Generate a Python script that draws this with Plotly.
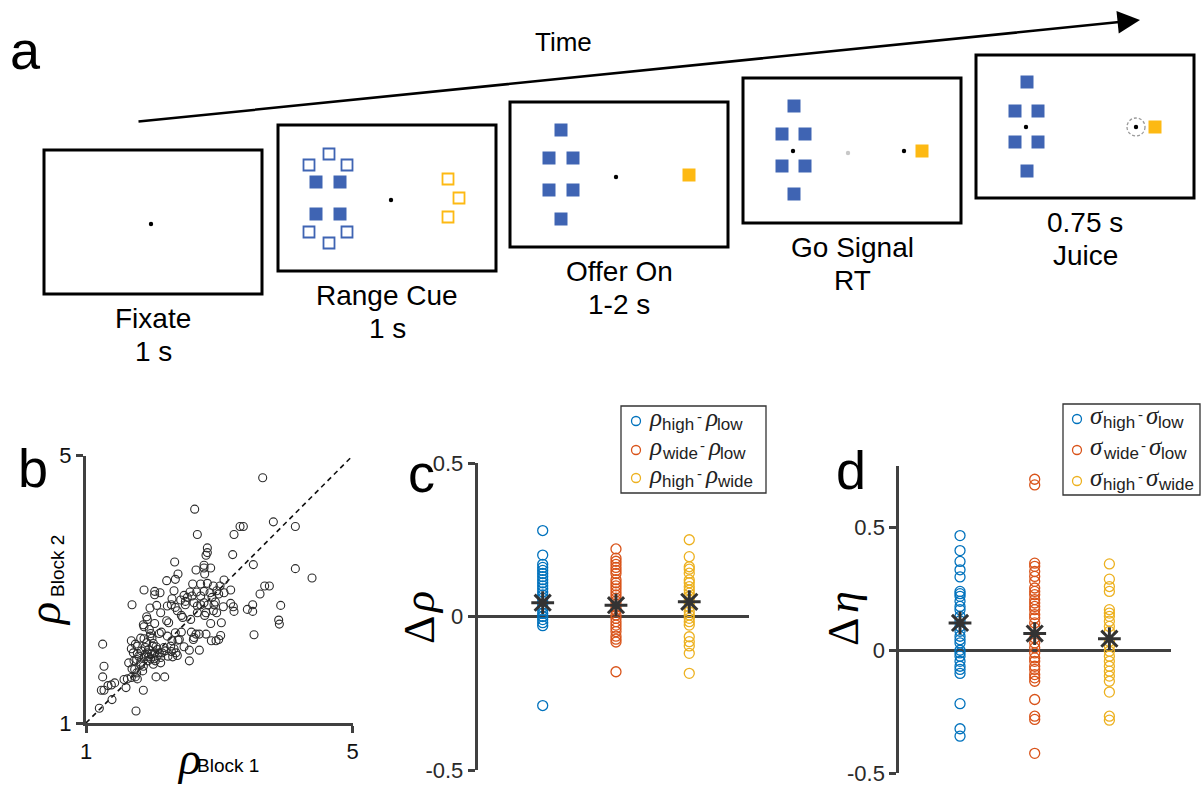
import plotly.graph_objects as go

W, H = 1203, 787
SANS = "Liberation Sans, Arial, sans-serif"
SERIF = "Liberation Serif, Times New Roman, serif"
AXIS_GREY = "#404040"
BLUE, ORANGE, YELLOW = "#0072BD", "#D95319", "#EDB120"
SQ_BLUE, SQ_YELLOW = "#3F64B3", "#FDB913"

# ---------------- panel b: rho per session, block 1 vs block 2 ----------------
rho_block1 = [
    3.65, 2.63, 3.81, 3.31, 3.36, 4.14, 3.22, 2.67, 2.82, 3.20, 2.80, 2.82,
    2.33, 3.51, 2.77, 2.77, 2.87, 2.65, 4.14, 2.38, 2.78, 4.39, 2.34, 2.21,
    3.07, 2.60, 2.72, 2.82, 2.91, 3.01, 3.68, 3.75, 1.87, 2.03, 2.11, 2.32,
    2.03, 2.47, 2.56, 2.66, 2.77, 2.86, 2.96, 2.99, 3.17, 3.61, 2.52, 2.29,
    2.42, 2.49, 1.69, 2.06, 2.28, 2.49, 2.67, 2.72, 2.83, 2.92, 3.06, 3.17,
    3.21, 1.96, 2.34, 3.42, 3.50, 3.50, 3.92, 2.80, 2.91, 2.96, 3.22, 2.43,
    2.45, 1.91, 1.92, 2.78, 2.57, 2.21, 2.24, 2.03, 2.87, 3.03, 3.89, 3.90,
    1.86, 1.87, 1.95, 1.97, 2.10, 2.13, 2.22, 2.34, 2.43, 2.58, 2.65, 2.70,
    2.80, 3.02, 2.62, 2.61, 2.99, 2.95, 2.88, 2.40, 2.29, 3.52, 1.25, 1.68,
    1.74, 1.82, 1.87, 1.91, 1.96, 1.99, 2.01, 2.05, 2.17, 2.27, 2.38, 2.47,
    2.55, 2.70, 1.71, 1.77, 1.83, 1.92, 2.00, 2.03, 2.10, 2.14, 2.28, 2.35,
    2.37, 1.76, 1.82, 1.88, 1.94, 1.97, 2.02, 2.07, 2.12, 2.23, 2.30, 2.55,
    1.27, 1.82, 1.69, 1.85, 1.76, 1.25, 1.57, 1.62, 1.68, 1.74, 1.77, 2.05,
    2.18, 1.43, 1.38, 1.33, 1.60, 1.27, 1.23, 1.86, 1.39, 1.20, 1.75, 1.89,
    1.94, 2.07, 1.93, 1.86, 1.98, 2.04, 2.19, 2.32, 2.12, 1.89, 2.01, 1.79,
    1.64, 1.73, 2.59, 2.72, 2.89, 2.62, 2.77, 2.94, 3.07, 2.67, 2.37, 2.12,
    2.22, 1.77, 1.68, 1.72,
]
rho_block2 = [
    4.67, 4.20, 4.01, 3.94, 3.94, 3.94, 3.82, 3.82, 3.62, 3.52, 3.51, 3.55,
    3.41, 3.37, 3.36, 3.32, 3.32, 3.29, 3.31, 3.23, 3.23, 3.17, 3.15, 3.13,
    3.14, 3.08, 3.08, 3.09, 3.05, 3.05, 3.05, 3.05, 2.99, 2.97, 2.95, 2.98,
    2.92, 2.91, 2.96, 2.96, 2.97, 2.95, 2.98, 2.93, 2.99, 2.93, 2.88, 2.86,
    2.84, 2.82, 2.77, 2.76, 2.77, 2.77, 2.75, 2.77, 2.77, 2.77, 2.74, 2.79,
    2.74, 2.72, 2.73, 2.70, 2.77, 2.67, 2.76, 2.65, 2.68, 2.65, 2.67, 2.61,
    2.58, 2.59, 2.55, 2.61, 2.55, 2.53, 2.50, 2.49, 2.49, 2.50, 2.54, 2.48,
    2.47, 2.44, 2.40, 2.34, 2.34, 2.36, 2.30, 2.35, 2.36, 2.36, 2.33, 2.33,
    2.33, 2.31, 2.28, 2.25, 2.25, 2.23, 2.23, 2.25, 2.23, 2.32, 2.18, 2.23,
    2.18, 2.27, 2.26, 2.20, 2.30, 2.27, 2.19, 2.14, 2.13, 2.15, 2.24, 2.14,
    2.09, 2.09, 2.05, 2.04, 2.08, 2.05, 2.15, 2.05, 2.05, 2.05, 2.07, 2.05,
    2.01, 1.95, 1.91, 1.99, 1.99, 1.96, 1.96, 2.01, 1.90, 2.00, 1.99, 1.93,
    1.85, 1.87, 1.81, 1.78, 1.75, 1.69, 1.65, 1.66, 1.68, 1.69, 1.66, 1.69,
    1.69, 1.60, 1.57, 1.56, 1.53, 1.49, 1.49, 1.49, 1.35, 1.22, 1.18, 2.13,
    2.10, 2.10, 1.93, 1.85, 2.03, 1.93, 2.08, 2.11, 1.98, 2.03, 1.88, 2.00,
    1.90, 1.80, 2.90, 2.90, 2.88, 2.80, 2.80, 2.81, 2.95, 2.65, 2.68, 2.65,
    2.75, 2.15, 2.11, 1.93,
]
rho_ticks = [1, 5]

# ---------------- panel c: differences in rho between range conditions ----------------
comparison_x = [1, 2, 3]
drho_high_low = [0.28, 0.20, 0.17, 0.16, 0.15, 0.14, 0.13, 0.12, 0.11, 0.10, 0.09, 0.08,
                 0.07, 0.06, 0.05, 0.04, 0.03, 0.02, 0.01, 0.0, -0.01, -0.02, -0.03, -0.29]
drho_wide_low = [0.22, 0.19, 0.18, 0.17, 0.16, 0.15, 0.14, 0.12, 0.11, 0.10, 0.09, 0.08,
                 0.07, 0.06, 0.05, 0.04, 0.03, 0.02, 0.005, -0.006, -0.017, -0.028,
                 -0.038, -0.049, -0.064, -0.074, -0.083, -0.18]
drho_high_wide = [0.25, 0.195, 0.162, 0.154, 0.141, 0.119, 0.11, 0.097, 0.086, 0.076,
                  0.065, 0.054, 0.043, 0.03, 0.016, 0.005, -0.006, -0.017, -0.028,
                  -0.066, -0.082, -0.096, -0.12, -0.185]
drho_means = [0.045, 0.037, 0.048]

# ---------------- panel d: differences in eta between range conditions ----------------
deta_high_low = [0.466, 0.405, 0.361, 0.327, 0.298, 0.239, 0.23, 0.219, 0.199, 0.178,
                 0.165, 0.138, 0.12, 0.097, 0.077, 0.057, 0.043, 0.03, 0.0, -0.011,
                 -0.024, -0.045, -0.065, -0.078, -0.094, -0.217, -0.319, -0.349]
deta_wide_low = [0.695, 0.672, 0.354, 0.341, 0.32, 0.3, 0.28, 0.253, 0.239, 0.226, 0.206,
                 0.192, 0.178, 0.165, 0.145, 0.131, 0.111, 0.091, 0.05, 0.03, 0.01,
                 -0.011, -0.031, -0.045, -0.065, -0.078, -0.099, -0.112, -0.126, -0.2,
                 -0.268, -0.281, -0.419]
deta_high_wide = [0.351, 0.289, 0.259, 0.239, 0.165, 0.151, 0.138, 0.118, 0.097, 0.077,
                  0.036, 0.016, -0.004, -0.024, -0.045, -0.065, -0.085, -0.105, -0.126,
                  -0.17, -0.268, -0.284]
deta_means = [0.111, 0.068, 0.047]

diff_ticks = [-0.5, 0, 0.5]
diff_ticktext = ["-0.5", "0", "0.5"]
comparison_subs = [("high", "low"), ("wide", "low"), ("high", "wide")]

# ---------------- panel a: trial schematic (pixel layout of the page) ----------------
screen_boxes = [(44, 150, 262, 294), (278, 125, 496, 271), (510, 102, 728, 247),
                (743, 78, 961, 223), (976, 55, 1194, 198)]
screen_captions = [("Fixate", "1 s"), ("Range Cue", "1 s"), ("Offer On", "1-2 s"),
                   ("Go Signal", "RT"), ("0.75 s", "Juice")]
fix_dots = [(151, 224), (391, 200), (616, 177), (793, 151), (904, 151), (1026, 127), (1136, 127)]
faded_dots = [(848, 153)]
offer_squares = [(316, 182), (340, 182), (316, 214), (340, 214),
                 (561, 130), (549, 158), (573, 158), (549, 190), (573, 190), (561, 219),
                 (794, 106), (782, 134), (805, 134), (782, 166), (805, 166), (794, 194),
                 (1027, 82), (1015, 111), (1038, 111), (1015, 142), (1038, 142), (1027, 171)]
range_blue_open = [(309, 165), (329, 154), (347, 165), (309, 232), (329, 243), (347, 232)]
range_yellow_open = [(448, 179), (459, 198), (448, 217)]
target_squares = [(689, 175), (922, 151), (1155, 127)]
reward_ring = (1136, 127, 9)

fig = go.Figure()

# panel b scatter
fig.add_trace(go.Scatter(x=[1, 5], y=[1, 5], mode="lines",
                         line=dict(color="#111111", width=1.6, dash="5px,4px"),
                         xaxis="x", yaxis="y", hoverinfo="skip"))
fig.add_trace(go.Scatter(x=rho_block1, y=rho_block2, mode="markers",
                         marker=dict(symbol="circle-open", size=8, color="#2b2b2b",
                                     line=dict(width=1.1)),
                         xaxis="x", yaxis="y"))

# panels c and d strips
for (xa, ya, groups, means) in [
    ("x2", "y2", [drho_high_low, drho_wide_low, drho_high_wide], drho_means),
    ("x3", "y3", [deta_high_low, deta_wide_low, deta_high_wide], deta_means),
]:
    for pos, vals, col in zip(comparison_x, groups, [BLUE, ORANGE, YELLOW]):
        fig.add_trace(go.Scatter(x=[pos] * len(vals), y=vals, mode="markers",
                                 marker=dict(symbol="circle-open", size=10, color=col,
                                             line=dict(width=1.3)),
                                 xaxis=xa, yaxis=ya))
    fig.add_trace(go.Scatter(x=comparison_x, y=means, mode="markers",
                             marker=dict(symbol="asterisk-open", size=19, color="#333333",
                                         line=dict(width=3, color="#333333")),
                             xaxis=xa, yaxis=ya))

# legend markers (drawn on the page-pixel overlay)
legend_rows_c = [421, 450, 478]
legend_rows_d = [419, 450, 481]
fig.add_trace(go.Scatter(x=[636] * 3 + [1077] * 3, y=legend_rows_c + legend_rows_d,
                         mode="markers",
                         marker=dict(symbol="circle-open", size=9,
                                     color=[BLUE, ORANGE, YELLOW] * 2, line=dict(width=1.3)),
                         xaxis="x4", yaxis="y4"))

tick_font = dict(family=SANS, size=22, color="#2a2a2a")
common_y = dict(showline=True, linecolor=AXIS_GREY, linewidth=3, ticks="outside",
                ticklen=7, tickwidth=3, tickcolor=AXIS_GREY, showgrid=False,
                tickfont=tick_font, automargin=False)

fig.update_layout(
    template="none",
    width=W, height=H, margin=dict(l=0, r=0, t=0, b=0, pad=0, autoexpand=False),
    paper_bgcolor="white", plot_bgcolor="rgba(0,0,0,0)", showlegend=False,
    xaxis=dict(domain=[86 / W, 352.7 / W], range=[1, 5], tickvals=rho_ticks,
               showline=True, linecolor=AXIS_GREY, linewidth=3, ticks="outside",
               ticklen=7, tickwidth=3, tickcolor=AXIS_GREY, showgrid=False,
               zeroline=False, tickfont=dict(family=SANS, size=22, color="#111111"),
               anchor="y", automargin=False),
    yaxis=dict(domain=[1 - 723 / H, 1 - 455.7 / H], range=[1, 5], tickvals=rho_ticks,
               showline=True, linecolor=AXIS_GREY, linewidth=3, ticks="outside",
               ticklen=7, tickwidth=3, tickcolor=AXIS_GREY, showgrid=False,
               zeroline=False, tickfont=dict(family=SANS, size=22, color="#111111"),
               anchor="x", automargin=False),
    xaxis2=dict(domain=[477.7 / W, 749 / W], range=[0.113, 3.815], visible=False,
                anchor="y2", automargin=False),
    yaxis2=dict(domain=[1 - 770 / H, 1 - 463 / H], range=[-0.5, 0.5],
                tickvals=diff_ticks, ticktext=diff_ticktext, zeroline=True,
                zerolinecolor=AXIS_GREY, zerolinewidth=3, anchor="x2", **common_y),
    xaxis3=dict(domain=[899.3 / W, 1170.7 / W], range=[0.187, 3.821], visible=False,
                anchor="y3", automargin=False),
    yaxis3=dict(domain=[1 - 773.3 / H, 1 - 465.7 / H], range=[-0.5, 0.75],
                tickvals=diff_ticks, ticktext=diff_ticktext, zeroline=True,
                zerolinecolor=AXIS_GREY, zerolinewidth=3, anchor="x3", **common_y),
    xaxis4=dict(domain=[0, 1], range=[0, W], visible=False, anchor="y4", automargin=False),
    yaxis4=dict(domain=[0, 1], range=[H, 0], visible=False, anchor="x4", automargin=False),
)

shapes = []
px = dict(xref="x4", yref="y4")
for (x0, y0, x1, y1) in screen_boxes:
    shapes.append(dict(type="rect", x0=x0, y0=y0, x1=x1, y1=y1,
                       line=dict(color="black", width=3), fillcolor="rgba(0,0,0,0)", **px))
for (cx, cy) in offer_squares:
    shapes.append(dict(type="rect", x0=cx - 6.5, y0=cy - 6.5, x1=cx + 6.5, y1=cy + 6.5,
                       line=dict(width=0), fillcolor=SQ_BLUE, **px))
for (cx, cy) in target_squares:
    shapes.append(dict(type="rect", x0=cx - 6.5, y0=cy - 6.5, x1=cx + 6.5, y1=cy + 6.5,
                       line=dict(width=0), fillcolor=SQ_YELLOW, **px))
for pts, col in [(range_blue_open, SQ_BLUE), (range_yellow_open, SQ_YELLOW)]:
    for (cx, cy) in pts:
        shapes.append(dict(type="rect", x0=cx - 5.5, y0=cy - 5.5, x1=cx + 5.5, y1=cy + 5.5,
                           line=dict(color=col, width=1.8), fillcolor="white", **px))
rx, ry, rr = reward_ring
shapes.append(dict(type="circle", x0=rx - rr, y0=ry - rr, x1=rx + rr, y1=ry + rr,
                   line=dict(color="#9a9a9a", width=1.3, dash="3px,2px"), **px))
for pts, col in [(fix_dots, "black"), (faded_dots, "#c8c8c8")]:
    for (cx, cy) in pts:
        shapes.append(dict(type="circle", x0=cx - 2.2, y0=cy - 2.2, x1=cx + 2.2, y1=cy + 2.2,
                           line=dict(width=0), fillcolor=col, **px))
# legend frames
shapes.append(dict(type="rect", x0=621, y0=406, x1=766, y1=493,
                   line=dict(color="#333333", width=1.3), fillcolor="rgba(0,0,0,0)", **px))
shapes.append(dict(type="rect", x0=1063, y0=404, x1=1200, y1=495,
                   line=dict(color="#333333", width=1.3), fillcolor="rgba(0,0,0,0)", **px))
fig.update_layout(shapes=shapes)


def label(x, y, text, size, family=SANS, color="black", xanchor="center",
          yanchor="middle", angle=0, style="normal"):
    fig.add_annotation(x=x, y=y, xref="x4", yref="y4", text=text, showarrow=False,
                       font=dict(family=family, size=size, color=color, style=style),
                       xanchor=xanchor, yanchor=yanchor, textangle=angle, borderpad=0)


# time arrow
fig.add_annotation(x=1140, y=20, ax=137, ay=121.7, xref="x4", yref="y4",
                   axref="x4", ayref="y4", text="", showarrow=True, arrowhead=2,
                   arrowsize=1.8, arrowwidth=2.5, arrowcolor="black")
label(563, 42, "Time", 26)

for (x0, y0, x1, y1), (l1, l2) in zip(screen_boxes, screen_captions):
    cx = (x0 + x1) / 2
    label(cx, y1 + 24, l1, 28)
    label(cx, y1 + 57, l2, 28)

# panel letters
label(25, 50, "a", 54)
label(33, 468, "b", 54)
label(421, 473, "c", 54)
label(851, 470, "d", 54)

# panel b axis titles
label(189, 758, "ρ", 46, family=SERIF, style="italic")
label(228, 765, "Block 1", 19)
label(44, 614, "ρ", 46, family=SERIF, style="italic", angle=-90)
label(57, 566, "Block 2", 19, angle=-90)

# panels c, d axis titles (upright delta, italic symbol, read bottom-to-top)
label(419, 630, "Δ", 44, family=SERIF, angle=-90)
label(419, 603, "ρ", 44, family=SERIF, style="italic", angle=-90)
label(843, 632, "Δ", 44, family=SERIF, angle=-90)
label(843, 602, "η", 44, family=SERIF, style="italic", angle=-90)

# legend entries: italic symbol with sans-serif subscripts
SUB_W = {"high": 32, "wide": 35, "low": 25.5}


def legend_row(x0, y, greek, sub1, sub2):
    x = x0
    label(x, y - 4, greek, 25, family=SERIF, style="italic", color="#222222", xanchor="left")
    x += 12.5
    label(x, y + 3, sub1, 17, color="#222222", xanchor="left")
    x += SUB_W[sub1] + 3
    label(x, y - 5, "-", 15, color="#222222", xanchor="left")
    x += 8
    label(x, y - 4, greek, 25, family=SERIF, style="italic", color="#222222", xanchor="left")
    x += 12.5
    label(x, y + 3, sub2, 17, color="#222222", xanchor="left")


for yy, (s1, s2) in zip(legend_rows_c, comparison_subs):
    legend_row(648, yy, "ρ", s1, s2)
for yy, (s1, s2) in zip(legend_rows_d, comparison_subs):
    legend_row(1089, yy, "σ", s1, s2)

fig.write_html("out.html")
